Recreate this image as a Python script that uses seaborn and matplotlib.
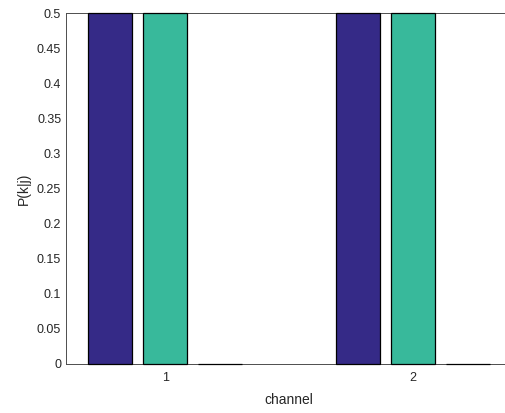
import matplotlib
matplotlib.use("Agg")
import matplotlib.pyplot as plt
import pandas as pd
import seaborn as sns

# data
channels = ["1", "2"]
series = ["k=1", "k=2", "k=3"]
values = {
    "k=1": [0.5, 0.5],
    "k=2": [0.5, 0.5],
    "k=3": [0.0, 0.0],
}
colors = ["#352a87", "#38b99b", "#f9fb0e"]
y_ticks = [0, 0.05, 0.1, 0.15, 0.2, 0.25, 0.3, 0.35, 0.4, 0.45, 0.5]

rows = []
for name in series:
    for ch, v in zip(channels, values[name]):
        rows.append({"channel": ch, "series": name, "P": v})
df = pd.DataFrame(rows)

sns.set_style("white")
plt.rcParams["font.family"] = ["Liberation Sans", "DejaVu Sans"]
axis_color = "#262626"

fig = plt.figure(figsize=(5.06, 4.13), dpi=100)
ax = fig.add_axes([66 / 506, (413 - 364) / 413, (512 - 66) / 506, (364 - 13) / 413])

sns.barplot(
    data=df,
    x="channel",
    y="P",
    hue="series",
    order=channels,
    hue_order=series,
    palette=colors,
    saturation=1,
    width=0.667,
    gap=0.2,
    edgecolor="black",
    linewidth=0.9,
    legend=False,
    ax=ax,
)
for bar in ax.patches:
    bar.set_clip_on(False)
    bar.set_zorder(3)

ax.set_xlim(-0.4, 1.4)
ax.set_ylim(0, 0.5)
ax.set_yticks(y_ticks)
ax.set_yticklabels([f"{t:g}" for t in y_ticks])
ax.set_xlabel("channel", fontsize=10, color=axis_color, labelpad=6)
ax.set_ylabel("P(k|j)", fontsize=10, color=axis_color)
ax.tick_params(direction="in", length=3, width=0.6, colors=axis_color, labelsize=9)
ax.tick_params(axis="x", pad=6)
for side in ["left", "top", "bottom", "right"]:
    ax.spines[side].set_visible(True)
    ax.spines[side].set_color("#4d4d4d")
    ax.spines[side].set_linewidth(0.7)

fig.savefig("out.png", dpi=100)
plt.close(fig)
